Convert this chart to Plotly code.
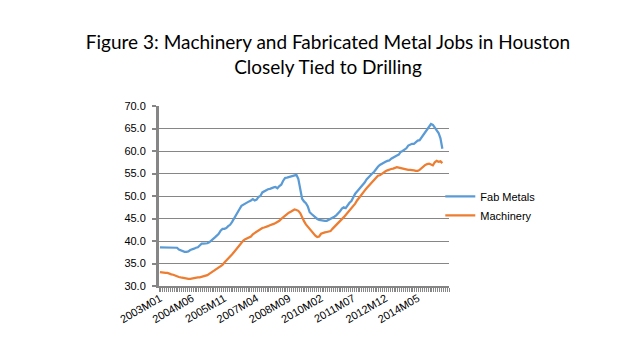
import plotly.graph_objects as go

# Monthly categories 2003M01 .. 2015M09 (data through 2015M06)
months = [f"{y}M{m:02d}" for y in range(2003, 2016) for m in range(1, 13)][:153]

tick_labels = ["2003M01", "2004M06", "2005M11", "2007M04", "2008M09",
               "2010M02", "2011M07", "2012M12", "2014M05"]

fab_metals = [
    38.6, 38.6, 38.5, 38.6, 38.6, 38.6, 38.5, 38.6, 38.6, 38.5,
    38.1, 37.9, 37.8, 37.6, 37.6, 37.7, 38.0, 38.1, 38.3, 38.5,
    38.6, 39.0, 39.4, 39.4, 39.4, 39.5, 39.7, 40.0, 40.4, 40.8,
    41.2, 41.6, 42.3, 42.7, 42.7, 42.9, 43.3, 43.6, 44.2, 45.0,
    45.8, 46.6, 47.1, 47.8, 48.1, 48.4, 48.6, 48.8, 49.0, 49.3,
    49.0, 49.2, 49.8, 50.0, 50.8, 51.1, 51.3, 51.5, 51.6, 51.8,
    51.9, 52.0, 51.7, 52.2, 52.5, 53.4, 54.0, 54.1, 54.2, 54.3,
    54.4, 54.6, 54.7, 53.8, 51.5, 49.4, 48.8, 48.4, 47.7, 46.4,
    46.0, 45.6, 45.1, 44.9, 44.7, 44.6, 44.5, 44.5, 44.5, 44.7,
    44.9, 45.1, 45.4, 45.7, 46.1, 46.6, 47.2, 47.5, 47.3, 48.0,
    48.5, 48.9, 49.8, 50.5, 51.0, 51.5, 51.9, 52.3, 53.0, 53.7,
    54.2, 54.6, 55.0, 55.4, 56.0, 56.5, 56.9, 57.2, 57.4, 57.6,
    57.8, 57.9, 58.3, 58.6, 58.9, 59.0, 59.2, 59.8, 60.0, 60.3,
    60.6, 61.2, 61.5, 61.6, 61.6, 62.0, 62.3, 62.4, 63.0, 63.5,
    64.0, 64.6, 65.4, 66.0, 65.8, 65.2, 64.6, 64.0, 62.8, 60.5,
]

machinery = [
    33.1, 33.0, 33.0, 32.9, 32.9, 32.7, 32.6, 32.5, 32.3, 32.2,
    32.0, 31.9, 31.8, 31.7, 31.7, 31.6, 31.6, 31.7, 31.8, 31.8,
    31.9, 31.9, 32.0, 32.1, 32.2, 32.4, 32.7, 33.0, 33.2, 33.4,
    33.8, 34.1, 34.4, 34.7, 35.2, 35.6, 36.0, 36.6, 37.0, 37.5,
    38.0, 38.6, 39.2, 39.6, 40.1, 40.4, 40.6, 40.8, 41.0, 41.5,
    41.8, 42.2, 42.5, 42.7, 42.9, 43.0, 43.1, 43.3, 43.5, 43.6,
    43.8, 44.0, 44.2, 44.5, 44.9, 45.3, 45.6, 45.9, 46.3, 46.5,
    46.8, 47.0, 46.9, 46.7, 46.2, 45.2, 44.4, 43.7, 43.2, 42.6,
    42.0, 41.5, 41.2, 40.9, 41.0, 41.6, 41.8, 41.9, 42.0, 42.1,
    42.2, 42.7, 43.1, 43.5, 44.0, 44.4, 44.9, 45.3, 45.8, 46.3,
    46.8, 47.1, 47.6, 48.3, 49.0, 49.6, 50.1, 50.6, 51.2, 51.7,
    52.2, 52.6, 53.0, 53.6, 54.0, 54.5, 54.6, 54.9, 55.4, 55.5,
    55.7, 55.9, 56.0, 56.1, 56.3, 56.4, 56.3, 56.2, 56.0, 55.9,
    55.9, 55.8, 55.8, 55.8, 55.7, 55.6, 55.6, 55.8, 56.2, 56.6,
    56.9, 57.1, 57.2, 57.0, 56.8, 57.5, 57.8, 57.6, 57.7, 57.3,
]

x_idx = list(range(len(fab_metals)))
tick_pos = [months.index(t) for t in tick_labels]

fig = go.Figure()
fig.add_trace(go.Scatter(x=x_idx, y=fab_metals, mode="lines", name="Fab Metals",
                         line=dict(color="#5B9BD5", width=2.25)))
fig.add_trace(go.Scatter(x=x_idx, y=machinery, mode="lines", name="Machinery",
                         line=dict(color="#ED7D31", width=2.25)))

fig.update_layout(
    width=640, height=360,
    paper_bgcolor="white", plot_bgcolor="white",
    margin=dict(l=151, r=199, t=98, b=82),
    title=dict(text="Figure 3: Machinery and Fabricated Metal Jobs in Houston<br>Closely Tied to Drilling",
               x=0.5, xanchor="center", y=0.885, yanchor="top",
               font=dict(family="Lato", size=19, color="black")),
    showlegend=True,
    legend=dict(x=0.97, xanchor="left", y=0.445, yanchor="middle",
                itemwidth=30,
                font=dict(family="Liberation Sans", size=11, color="black"),
                bgcolor="rgba(0,0,0,0)", tracegroupgap=2),
    font=dict(family="Liberation Sans", size=11, color="black"),
)

fig.update_xaxes(
    range=[-0.5, len(months) - 0.5],
    tickvals=tick_pos, ticktext=tick_labels, tickangle=-30,
    ticks="", showgrid=False, zeroline=False,
    showline=True, linecolor="#868686", linewidth=2,
    minor=dict(ticks="outside", tick0=-0.5, dtick=1, ticklen=4,
               tickcolor="#868686", tickwidth=1, showgrid=False),
    tickfont=dict(family="Liberation Sans", size=11, color="black"),
)
fig.update_yaxes(
    range=[30, 70], dtick=5, tickformat=".1f",
    showgrid=True, gridcolor="#868686", gridwidth=1,
    zeroline=False, showline=True, linecolor="#868686", linewidth=3,
    ticks="outside", ticklen=4, tickcolor="#868686", tickwidth=2,
    ticklabelstandoff=4,
    tickfont=dict(family="Liberation Sans", size=11, color="black"),
)

fig.write_html("out.html")
